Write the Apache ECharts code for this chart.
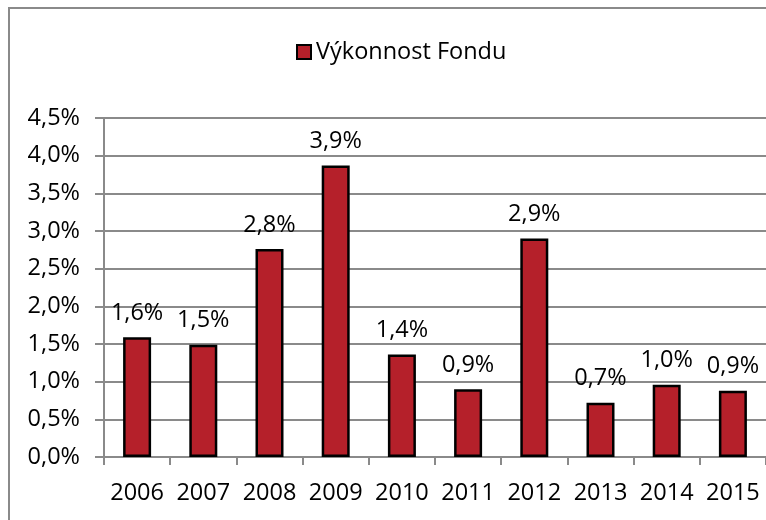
<!DOCTYPE html>
<html>
<head>
<meta charset="utf-8">
<script src="https://cdn.jsdelivr.net/npm/echarts@6/dist/echarts.min.js"></script>
<style>
  html, body { margin: 0; padding: 0; background: #fff; }
  #chart { width: 766px; height: 520px; }
</style>
</head>
<body>
<div id="chart"></div>
<script>
// data
const years = ['2006', '2007', '2008', '2009', '2010', '2011', '2012', '2013', '2014', '2015']
const performance = [1.59, 1.49, 2.76, 3.87, 1.36, 0.9, 2.9, 0.72, 0.96, 0.88]
const seriesName = 'Výkonnost Fondu'

const fmt = v => v.toFixed(1).replace('.', ',') + '%'
const font = '"Open Sans", "Liberation Sans", sans-serif'

const chart = echarts.init(document.getElementById('chart'))
chart.setOption({
    animation: false,
    textStyle: { fontFamily: font },
    graphic: [{
        type: 'rect',
        shape: { x: 9, y: 8, width: 800, height: 600 },
        style: { fill: 'none', stroke: '#8a8a8a', lineWidth: 2 },
        silent: true
    }],
    legend: {
        left: 291,
        top: 35,
        itemWidth: 14,
        itemHeight: 14,
        itemGap: 10,
        textStyle: { fontSize: 23.5, color: '#000', fontFamily: font },
        data: [{ name: seriesName, icon: 'rect' }]
    },
    grid: { left: 104, right: -3, top: 118, bottom: 63, containLabel: false },
    xAxis: {
        type: 'category',
        data: years,
        axisLine: { lineStyle: { color: '#8a8a8a', width: 2 } },
        axisTick: { show: true, length: 8, lineStyle: { color: '#8a8a8a', width: 2 } },
        axisLabel: { color: '#000', fontSize: 23.5, margin: 24, interval: 0, fontFamily: font }
    },
    yAxis: {
        type: 'value',
        min: 0,
        max: 4.5,
        interval: 0.5,
        axisLine: { show: true, lineStyle: { color: '#8a8a8a', width: 2 } },
        axisTick: { show: true, length: 9, lineStyle: { color: '#8a8a8a', width: 2 } },
        splitLine: { lineStyle: { color: '#8a8a8a', width: 2 } },
        axisLabel: { color: '#000', fontSize: 23.5, margin: 24, formatter: v => fmt(v), fontFamily: font }
    },
    series: [{
        name: seriesName,
        type: 'bar',
        data: performance,
        barWidth: 28,
        itemStyle: { color: '#b5202a', borderColor: '#000', borderWidth: 2.5 },
        label: {
            show: true,
            position: 'top',
            distance: 12,
            color: '#000',
            fontSize: 23.5,
            fontFamily: font,
            formatter: p => fmt(p.value)
        }
    }]
})
</script>
</body>
</html>
